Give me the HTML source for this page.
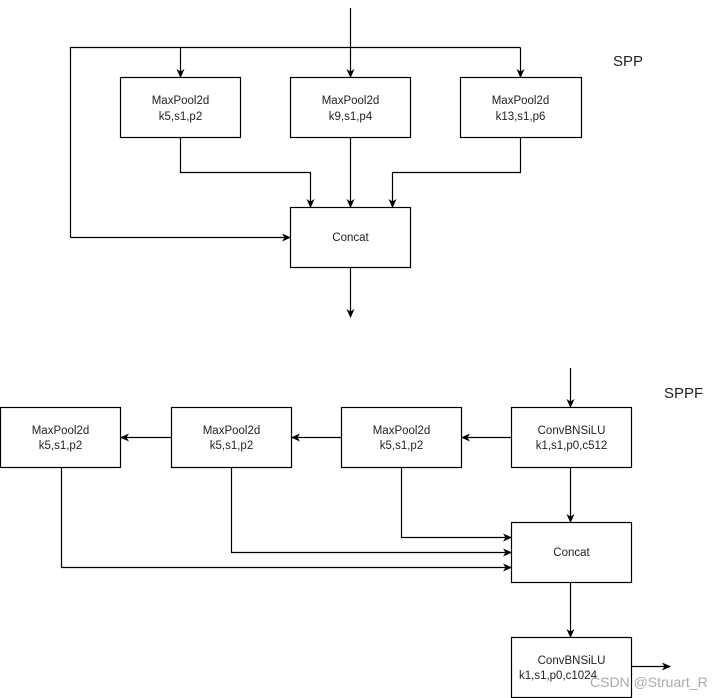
<!DOCTYPE html>
<html><head><meta charset="utf-8"><style>
html,body{margin:0;padding:0;background:#fff;}
svg{display:block;}
text{font-family:"Liberation Sans",Arial,sans-serif;font-size:11.5px;fill:#222;}
</style></head><body>
<svg width="721" height="698" viewBox="0 0 721 698" xmlns="http://www.w3.org/2000/svg">
<defs>
<marker id="a" markerWidth="10" markerHeight="10" refX="8" refY="5" orient="auto" markerUnits="userSpaceOnUse">
<path d="M0,1 L9,5 L0,9 L2.5,5 Z" fill="#000"/>
</marker>
</defs>
<g stroke="#000" stroke-width="1.2" fill="none">
<!-- SPP -->
<line x1="350.5" y1="8" x2="350.5" y2="77" marker-end="url(#a)"/>
<polyline points="70.5,237.5 70.5,47.5 520.5,47.5"/>
<line x1="180.5" y1="47.5" x2="180.5" y2="77" marker-end="url(#a)"/>
<line x1="520.5" y1="47.5" x2="520.5" y2="77" marker-end="url(#a)"/>
<rect x="120.5" y="77.5" width="120" height="60"/>
<rect x="290.5" y="77.5" width="120" height="60"/>
<rect x="460.5" y="77.5" width="121" height="60"/>
<polyline points="180.5,137.5 180.5,172.5 310.5,172.5 310.5,207" marker-end="url(#a)"/>
<line x1="350.5" y1="137.5" x2="350.5" y2="207" marker-end="url(#a)"/>
<polyline points="520.5,137.5 520.5,172.5 392.5,172.5 392.5,207" marker-end="url(#a)"/>
<rect x="290.5" y="207.5" width="120" height="60"/>
<line x1="70.5" y1="237.5" x2="290" y2="237.5" marker-end="url(#a)"/>
<line x1="350.5" y1="267.5" x2="350.5" y2="317" marker-end="url(#a)"/>
<!-- SPPF -->
<line x1="570.5" y1="368" x2="570.5" y2="407" marker-end="url(#a)"/>
<rect x="0.5" y="407.5" width="120" height="60"/>
<rect x="171.5" y="407.5" width="120" height="60"/>
<rect x="341.5" y="407.5" width="120" height="60"/>
<rect x="511.5" y="407.5" width="120" height="60"/>
<line x1="511" y1="437.5" x2="462" y2="437.5" marker-end="url(#a)"/>
<line x1="341" y1="437.5" x2="292" y2="437.5" marker-end="url(#a)"/>
<line x1="171" y1="437.5" x2="121" y2="437.5" marker-end="url(#a)"/>
<line x1="570.5" y1="467.5" x2="570.5" y2="522" marker-end="url(#a)"/>
<rect x="511.5" y="522.5" width="120" height="60"/>
<polyline points="401.5,467.5 401.5,537.5 511,537.5" marker-end="url(#a)"/>
<polyline points="231.5,467.5 231.5,552.5 511,552.5" marker-end="url(#a)"/>
<polyline points="61.5,467.5 61.5,567.5 511,567.5" marker-end="url(#a)"/>
<line x1="570.5" y1="582.5" x2="570.5" y2="637" marker-end="url(#a)"/>
<rect x="511.5" y="637.5" width="120" height="60"/>
<line x1="631.5" y1="666.5" x2="670" y2="666.5" marker-end="url(#a)"/>
</g>
<g text-anchor="middle">
<text x="180.5" y="104">MaxPool2d</text><text x="180.5" y="120">k5,s1,p2</text>
<text x="350.5" y="104">MaxPool2d</text><text x="350.5" y="120">k9,s1,p4</text>
<text x="520.5" y="104">MaxPool2d</text><text x="520.5" y="120">k13,s1,p6</text>
<text x="350.5" y="241">Concat</text>
<text x="60.5" y="434">MaxPool2d</text><text x="60.5" y="449">k5,s1,p2</text>
<text x="231.5" y="434">MaxPool2d</text><text x="231.5" y="449">k5,s1,p2</text>
<text x="401.5" y="434">MaxPool2d</text><text x="401.5" y="449">k5,s1,p2</text>
<text x="571.5" y="434">ConvBNSiLU</text><text x="571.5" y="449">k1,s1,p0,c512</text>
<text x="571.5" y="556">Concat</text>
<text x="571.5" y="664">ConvBNSiLU</text><text x="558" y="679">k1,s1,p0,c1024</text>
</g>
<text x="613" y="66" style="font-size:15px">SPP</text>
<text x="664" y="398" style="font-size:15px">SPPF</text>
<text x="590" y="687" style="font-size:14px;fill:#aaa">CSDN @Struart_R</text>
</svg>
</body></html>
